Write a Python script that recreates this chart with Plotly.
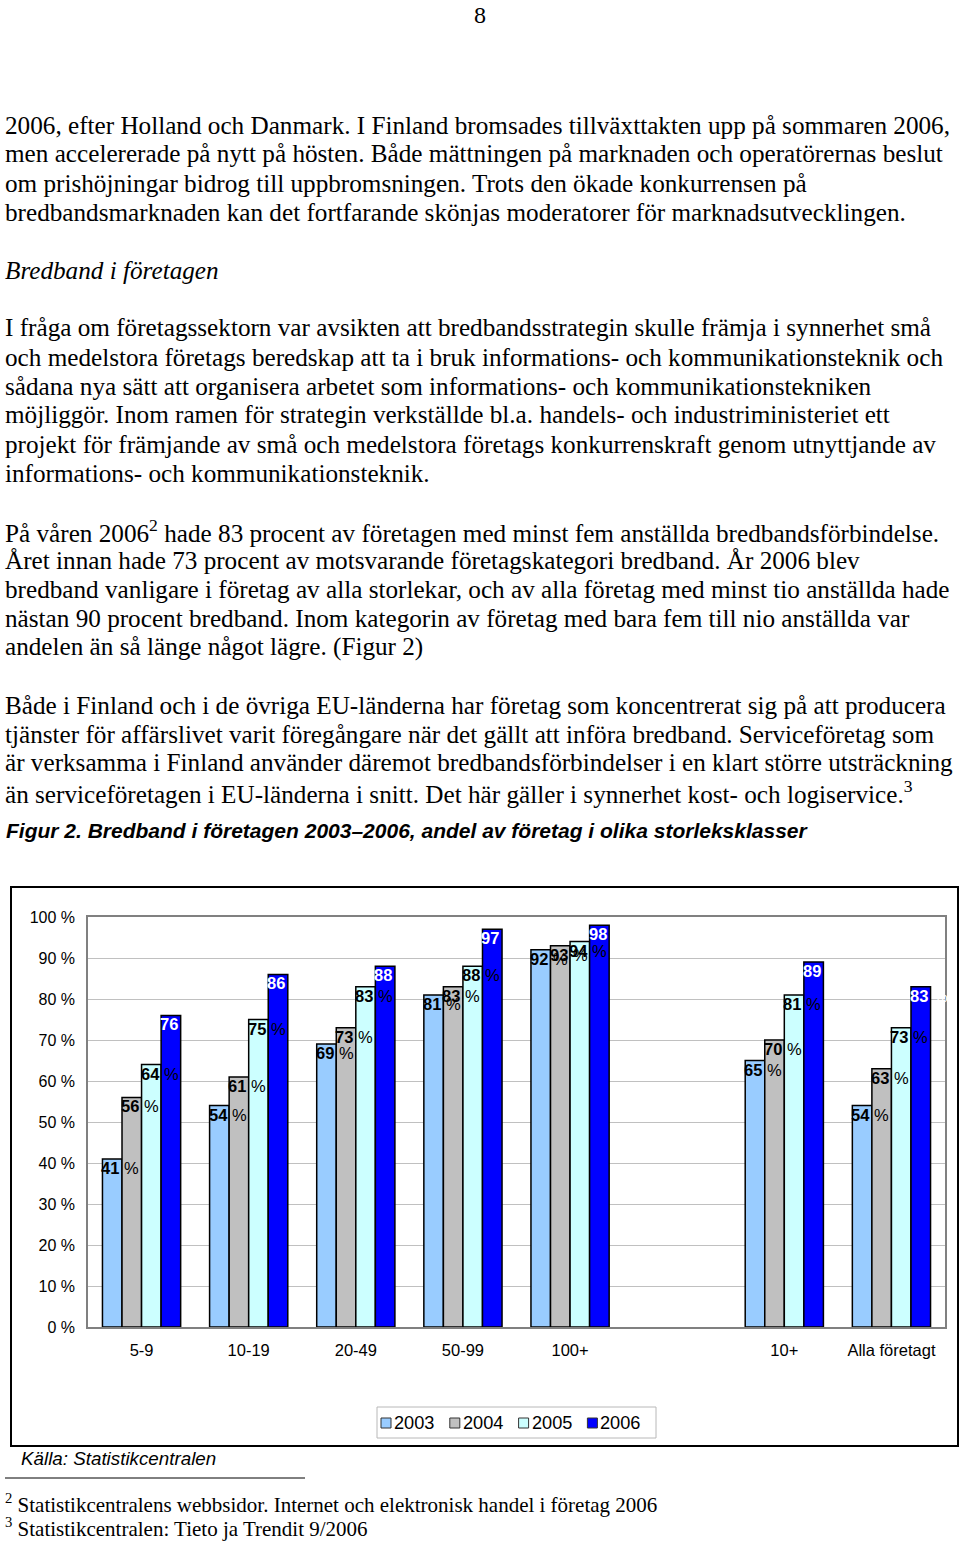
import plotly.graph_objects as go

W, H = 960, 1541

# ---------------- data ----------------
categories = ["5-9", "10-19", "20-49", "50-99", "100+", "10+", "Alla företagt"]
cat_pos = [0, 1, 2, 3, 4, 6, 7]          # one empty slot between "100+" and "10+"
years = ["2003", "2004", "2005", "2006"]
v2003 = [41, 54, 69, 81, 92, 65, 54]
v2004 = [56, 61, 73, 83, 93, 70, 63]
v2005 = [64, 75, 83, 88, 94, 81, 73]
v2006 = [76, 86, 88, 97, 98, 89, 83]
series = [v2003, v2004, v2005, v2006]
y_ticks = [0, 10, 20, 30, 40, 50, 60, 70, 80, 90, 100]
y_ticktext = [f"{t} %" for t in y_ticks]

bar_colors = ["#99CCFF", "#C0C0C0", "#CCFFFF", "#0000FF"]
label_colors = ["black", "black", "black", "white"]

para1 = [
    "2006, efter Holland och Danmark. I Finland bromsades tillväxttakten upp på sommaren 2006,",
    "men accelererade på nytt på hösten. Både mättningen på marknaden och operatörernas beslut",
    "om prishöjningar bidrog till uppbromsningen. Trots den ökade konkurrensen på",
    "bredbandsmarknaden kan det fortfarande skönjas moderatorer för marknadsutvecklingen.",
]
heading = "Bredband i företagen"
para2 = [
    "I fråga om företagssektorn var avsikten att bredbandsstrategin skulle främja i synnerhet små",
    "och medelstora företags beredskap att ta i bruk informations- och kommunikationsteknik och",
    "sådana nya sätt att organisera arbetet som informations- och kommunikationstekniken",
    "möjliggör. Inom ramen för strategin verkställde bl.a. handels- och industriministeriet ett",
    "projekt för främjande av små och medelstora företags konkurrenskraft genom utnyttjande av",
    "informations- och kommunikationsteknik.",
]
para3 = [
    "På våren 2006<sup>2</sup> hade 83 procent av företagen med minst fem anställda bredbandsförbindelse.",
    "Året innan hade 73 procent av motsvarande företagskategori bredband. År 2006 blev",
    "bredband vanligare i företag av alla storlekar, och av alla företag med minst tio anställda hade",
    "nästan 90 procent bredband. Inom kategorin av företag med bara fem till nio anställda var",
    "andelen än så länge något lägre. (Figur 2)",
]
para4 = [
    "Både i Finland och i de övriga EU-länderna har företag som koncentrerat sig på att producera",
    "tjänster för affärslivet varit föregångare när det gällt att införa bredband. Serviceföretag som",
    "är verksamma i Finland använder däremot bredbandsförbindelser i en klart större utsträckning",
    "än serviceföretagen i EU-länderna i snitt. Det här gäller i synnerhet kost- och logiservice.<sup>3</sup>",
]
caption = "Figur 2. Bredband i företagen 2003–2006, andel av företag i olika storleksklasser"
source = "Källa: Statistikcentralen"
footnotes = [
    "<sup>2</sup> Statistikcentralens webbsidor. Internet och elektronisk handel i företag 2006",
    "<sup>3</sup> Statistikcentralen: Tieto ja Trendit 9/2006",
]
page_no = "8"

# ---------------- helpers ----------------
def px(x):
    return x / W


def py(y):
    return 1 - y / H


SERIF = "Liberation Serif, Times New Roman, serif"
SANS = "Liberation Sans, Arial, sans-serif"

fig = go.Figure()
for yr, vals, col in zip(years, series, bar_colors):
    fig.add_trace(go.Bar(
        x=cat_pos, y=vals, name=yr,
        marker=dict(color=col, line=dict(color="black", width=1.5)),
        hoverinfo="x+y", showlegend=False,
    ))

BARGAP = 0.27
bw = (1 - BARGAP) / len(series)

annotations = []
shapes = []

# bar value labels
for i, (vals, lc) in enumerate(zip(series, label_colors)):
    for xp, v in zip(cat_pos, vals):
        left = xp - (1 - BARGAP) / 2 + i * bw
        annotations.append(dict(
            x=left, y=v, xref="x", yref="y",
            text=f"<b>{v}</b> %", showarrow=False,
            xanchor="left", yanchor="top", xshift=-3, yshift=2,
            font=dict(family=SANS, size=16.5, color=lc),
        ))


def add_line(text, x, y, size, family=SERIF, anchor="left", color="black", yanchor="middle"):
    annotations.append(dict(
        x=px(x), y=py(y), xref="paper", yref="paper", text=text,
        showarrow=False, xanchor=anchor, yanchor=yanchor,
        font=dict(family=family, size=size, color=color),
    ))


BODY = 25.2
LH = 29
add_line(page_no, 480, 0, 24, anchor="center", yanchor="top")
for k, t in enumerate(para1):
    add_line(t, 3, 125 + k * LH, BODY)
add_line(f"<i>{heading}</i>", 3, 270, BODY)
for k, t in enumerate(para2):
    add_line(t, 3, 328 + k * LH, BODY)
for k, t in enumerate(para3):
    add_line(t, 3, 531 + k * LH, BODY)
for k, t in enumerate(para4):
    add_line(t, 3, 705 + k * LH, BODY)
add_line(f"<b><i>{caption}</i></b>", 4, 830, 21, family=SANS)
add_line(f"<i>{source}</i>", 19, 1458, 18.8, family=SANS)
add_line(footnotes[0], 3, 1503, 21)
add_line(footnotes[1], 3, 1527, 21)

# chart frame
shapes.append(dict(type="rect", xref="paper", yref="paper",
                   x0=px(11), x1=px(958), y0=py(1446), y1=py(887),
                   line=dict(color="black", width=2), fillcolor="rgba(0,0,0,0)", layer="below"))
# footnote separator
shapes.append(dict(type="line", xref="paper", yref="paper",
                   x0=px(5), x1=px(305), y0=py(1478), y1=py(1478),
                   line=dict(color="black", width=1)))

# legend (box, swatches, year labels)
shapes.append(dict(type="rect", xref="paper", yref="paper",
                   x0=px(377), x1=px(656), y0=py(1438), y1=py(1407),
                   line=dict(color="#B8B8B8", width=1), fillcolor="white"))
LEG_X0, LEG_STEP = 381, 68.8
for k, (yr, col) in enumerate(zip(years, bar_colors)):
    sx = LEG_X0 + k * LEG_STEP
    shapes.append(dict(type="rect", xref="paper", yref="paper",
                       x0=px(sx), x1=px(sx + 10), y0=py(1428), y1=py(1418),
                       line=dict(color="#333333", width=1), fillcolor=col))
    add_line(yr, sx + 11, 1422.5, 18.2, family=SANS)

fig.update_layout(
    width=W, height=H,
    margin=dict(l=0, r=0, t=0, b=0, pad=0, autoexpand=False),
    paper_bgcolor="white", plot_bgcolor="white",
    font=dict(family=SANS, color="black"),
    barmode="group", bargap=BARGAP, bargroupgap=0,
    showlegend=False,
    xaxis=dict(
        domain=[px(88), px(945)], range=[-0.5, 7.5],
        tickmode="array", tickvals=cat_pos, ticktext=categories,
        showgrid=False, zeroline=False, showline=True, mirror=True,
        linecolor="#808080", linewidth=1.5, ticks="",
        tickfont=dict(family=SANS, size=16.5), ticklabelstandoff=7,
        fixedrange=True, automargin=False,
    ),
    yaxis=dict(
        domain=[py(1327), py(917)], range=[0, 100],
        tickmode="array", tickvals=y_ticks, ticktext=y_ticktext,
        showgrid=True, gridcolor="#C0C0C0", gridwidth=1, zeroline=False,
        showline=True, mirror=True, linecolor="#808080", linewidth=1.5, ticks="",
        tickfont=dict(family=SANS, size=16), ticklabelstandoff=8,
        fixedrange=True, automargin=False,
    ),
    annotations=annotations,
    shapes=shapes,
)

fig.write_html(
    "out.html",
    config={"displayModeBar": False},
    post_script="document.body.style.margin='0';document.body.style.overflow='hidden';",
)
